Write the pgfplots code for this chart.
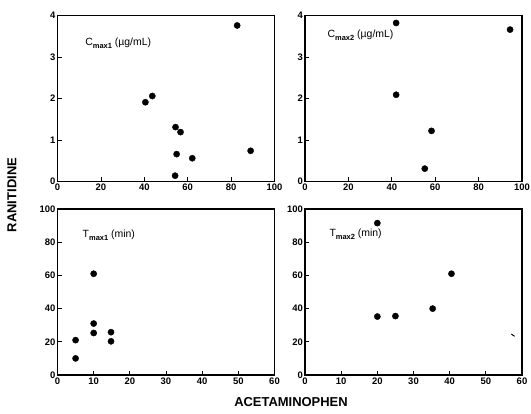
\documentclass[border=0pt]{standalone}
\usepackage{fontspec}
\setmainfont{Liberation Sans}
\usepackage{pgfplots}
\pgfplotsset{compat=1.18}

\newcommand{\sub}[1]{\raisebox{-0.5ex}{\fontsize{7.5}{8}\selectfont\bfseries #1}}

\pgfplotsset{
  panel/.style={
    scale only axis, width=217bp, height=166bp,
    anchor=south west,
    axis line style={line width=1.1pt},
    tick align=inside, xtick pos=bottom, ytick pos=left,
    major tick length=4bp,
    tick style={line width=0.8pt, black},
    /pgf/number format/assume math mode=true,
    tick label style={font=\fontsize{9.5}{10}\selectfont\bfseries},
    xticklabel style={yshift=1bp},
    yticklabel style={xshift=1.5bp},
    clip=false,
  },
  dots/.style={only marks, mark=*, mark size=3.1bp,
    mark options={fill=black, draw=black}},
}

\begin{document}
\begin{tikzpicture}
\path[use as bounding box] (0,0) rectangle (531bp,414bp);

% Cmax1
\begin{axis}[panel, at={(57.5bp,232.5bp)},
  xmin=0, xmax=100, ymin=0, ymax=4,
  xtick={0,20,...,100}, ytick={0,1,2,3,4}]
\addplot[dots] coordinates {
  (40.5,1.91) (43.7,2.06) (54.4,1.31) (56.7,1.19) (54.9,0.66)
  (62.1,0.56) (54.2,0.14) (82.8,3.76) (89.0,0.74)
};
\node[anchor=west, font=\fontsize{10.5}{11}\selectfont] at (axis cs:11.2,3.34)
  {C\sub{max1} (µg/mL)};
\end{axis}

% Cmax2
\begin{axis}[panel, at={(305bp,232.5bp)},
  xmin=0, xmax=100, ymin=0, ymax=4,
  xtick={0,20,...,100}, ytick={0,1,2,3,4}]
\addplot[dots] coordinates {
  (42,3.82) (42,2.09) (58.3,1.22) (55.2,0.31) (94.5,3.66)
};
\node[anchor=west, font=\fontsize{10.5}{11}\selectfont] at (axis cs:8.8,3.52)
  {C\sub{max2} (µg/mL)};
\end{axis}

% Tmax1
\begin{axis}[panel, at={(57.5bp,39bp)},
  xmin=0, xmax=60, ymin=0, ymax=100,
  xtick={0,10,...,60}, ytick={0,20,...,100}]
\addplot[dots] coordinates {
  (10,61) (10,31) (10,25.3) (5,21) (5,10) (14.8,25.8) (14.8,20.3)
};
\node[anchor=west, font=\fontsize{10.5}{11}\selectfont] at (axis cs:6,84)
  {T\sub{max1} (min)};
\end{axis}

% Tmax2
\begin{axis}[panel, at={(305bp,39bp)},
  xmin=0, xmax=60, ymin=0, ymax=100,
  xtick={0,10,...,60}, ytick={0,20,...,100}]
\addplot[dots] coordinates {
  (20,91.5) (20,35.2) (25,35.5) (35.3,40) (40.5,61)
};
\addplot[only marks, mark=-, mark size=2bp, mark options={rotate=-35, line width=1pt}]
  coordinates {(57.5,24)};
\node[anchor=west, font=\fontsize{10.5}{11}\selectfont] at (axis cs:5.8,84.8)
  {T\sub{max2} (min)};
\end{axis}

\node[rotate=90, font=\fontsize{13}{14}\selectfont\bfseries] at (12bp,219bp) {RANITIDINE};
\node[font=\fontsize{13}{14}\selectfont\bfseries] at (291bp,12bp) {ACETAMINOPHEN};
\end{tikzpicture}
\end{document}
